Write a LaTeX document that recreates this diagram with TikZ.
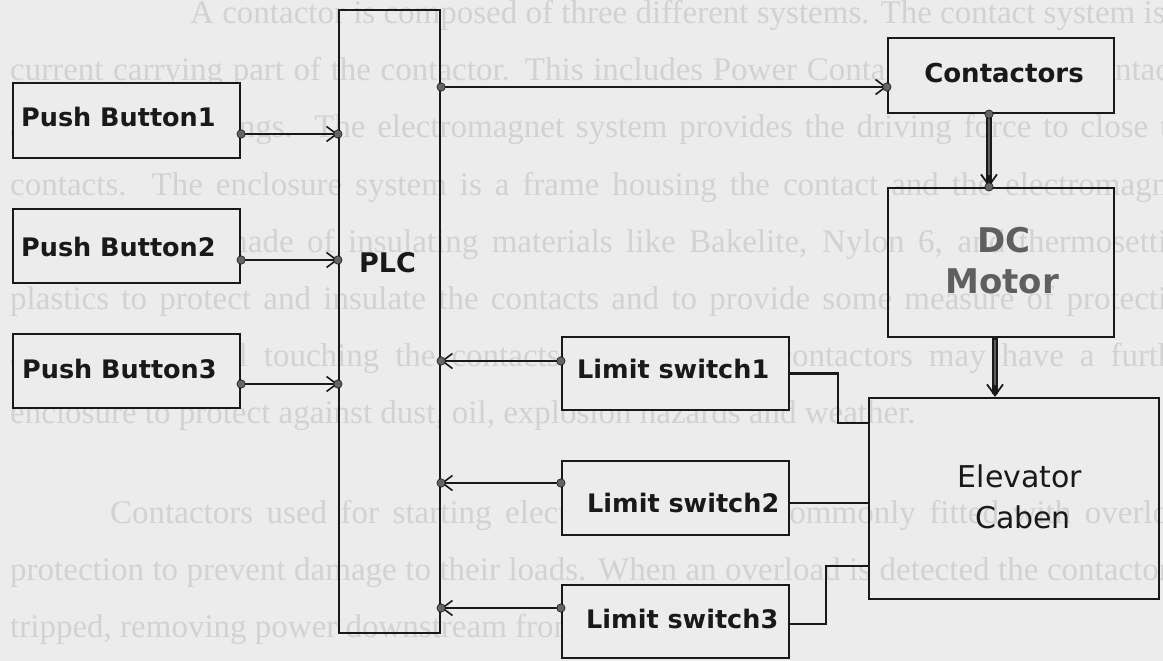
\documentclass[tikz,border=0pt]{standalone}
\usepackage{fontspec}
\setmainfont{Liberation Serif}
\newfontfamily\diagfont{DejaVu Sans}
\usetikzlibrary{arrows.meta,calc}
\definecolor{paper}{RGB}{236,236,236}
\definecolor{ghost}{RGB}{210,210,210}
\definecolor{ink}{RGB}{25,25,25}
\definecolor{dotgray}{RGB}{100,100,100}
\definecolor{motorgray}{RGB}{95,95,95}
\begin{document}
\begin{tikzpicture}[x=1pt,y=-1pt,
  box/.style={draw=ink, line width=2.2pt, inner sep=0pt, rectangle},
  solidbox/.style={box, fill=paper},
  lbl/.style={font=\diagfont\bfseries\fontsize{25.5}{30}\selectfont, text=ink, inner sep=0pt},
  biglbl/.style={font=\diagfont\bfseries\fontsize{34}{40}\selectfont, text=motorgray, inner sep=0pt, anchor=base},
  elevlbl/.style={font=\diagfont\fontsize{30}{36}\selectfont, text=ink, inner sep=0pt, anchor=base},
  ghosttext/.style={font=\fontsize{33}{40}\selectfont, text=ghost, inner sep=0pt, anchor=base west},
  wire/.style={draw=ink, line width=2.2pt},
  conn/.style={wire, -{Straight Barb[length=10pt,width=15pt,line width=1.6pt]}},
  heavy/.style={draw=ink, line width=5.5pt, -{Straight Barb[length=11pt,width=16pt,line width=1.8pt]}},
  heavycore/.style={draw=motorgray, line width=2.6pt},
  dot/.style={fill=dotgray, draw=ink, line width=0.6pt}
]
\useasboundingbox (0,0) rectangle (1163,661);
\fill[paper] (0,0) rectangle (1163,661);

% faint text showing through the page
\begin{scope}
\clip (0,0) rectangle (1163,661);
\node[ghosttext] (g1) at (190,24) {A contactor is composed of three different systems. The contact system is the};
\node[ghosttext] (g2) at (10,81) {\makebox[1190pt][s]{current carrying part of the contactor. This includes Power Contacts, Auxiliary Contacts,}};
\node[ghosttext] (g3) at (10,138) {\makebox[1190pt][s]{and Contact Springs. The electromagnet system provides the driving force to close the}};
\node[ghosttext] (g4) at (10,195) {\makebox[1190pt][s]{contacts. The enclosure system is a frame housing the contact and the electromagnet.}};
\node[ghosttext] (g5) at (10,252) {\makebox[1190pt][s]{Enclosures are made of insulating materials like Bakelite, Nylon 6, and thermosetting}};
\node[ghosttext] (g6) at (10,309) {\makebox[1190pt][s]{plastics to protect and insulate the contacts and to provide some measure of protection}};
\node[ghosttext] (g7) at (10,366) {\makebox[1190pt][s]{against personnel touching the contacts. Open-frame contactors may have a further}};
\node[ghosttext] (g8) at (10,423) {enclosure to protect against dust, oil, explosion hazards and weather.};
\node[ghosttext] (g9) at (110,523) {\makebox[1090pt][s]{Contactors used for starting electric motors are commonly fitted with overload}};
\node[ghosttext] (g10) at (10,580) {\makebox[1190pt][s]{protection to prevent damage to their loads. When an overload is detected the contactor is}};
\node[ghosttext] (g11) at (10,637) {tripped, removing power downstream from the contactor.};
\end{scope}

% boxes
\node[solidbox, minimum width=227pt, minimum height=75pt] (pb1) at (126.5,120.5) {};
\node[solidbox, minimum width=227pt, minimum height=74pt] (pb2) at (126.5,246) {};
\node[solidbox, minimum width=227pt, minimum height=74pt] (pb3) at (126.5,371) {};
\node[box, minimum width=101pt, minimum height=623pt] (plc) at (389.5,321.5) {};
\node[solidbox, minimum width=226pt, minimum height=75pt] (cont) at (1001,75.5) {};
\node[box, minimum width=226pt, minimum height=149pt] (dcm) at (1001,262.5) {};
\node[box, minimum width=290pt, minimum height=201pt] (elev) at (1014,498.5) {};
\node[solidbox, minimum width=227pt, minimum height=73pt] (ls1) at (675.5,373.5) {};
\node[solidbox, minimum width=227pt, minimum height=74pt] (ls2) at (675.5,498) {};
\node[solidbox, minimum width=227pt, minimum height=73pt] (ls3) at (675.5,621.5) {};

% labels
\node[lbl, anchor=base west] (pb1t) at (21,127) {Push Button1};
\node[lbl, anchor=base west] (pb2t) at (21,256) {Push Button2};
\node[lbl, anchor=base west] (pb3t) at (22,378) {Push Button3};
\node[lbl, anchor=base west, font=\diagfont\bfseries\fontsize{27}{32}\selectfont] (plct) at (359,272) {PLC};
\node[lbl, anchor=base, font=\diagfont\bfseries\fontsize{26}{30}\selectfont] (contt) at (1004,82) {Contactors};
\node[biglbl] (dct) at (1004,252) {DC};
\node[biglbl] (motort) at (1002,293) {Motor};
\node[elevlbl] (elt) at (1020,487) {Elevator};
\node[elevlbl] (cabt) at (1023,528) {Caben};
\node[lbl, anchor=base west] (ls1t) at (577,378) {Limit switch1};
\node[lbl, anchor=base west] (ls2t) at (587,512) {Limit switch2};
\node[lbl, anchor=base west] (ls3t) at (586,628) {Limit switch3};

% push buttons to PLC
\draw[conn] ([yshift=-13.5pt]pb1.east) coordinate (p1s) -- (p1s -| plc.west) coordinate (p1e);
\draw[conn] ([yshift=-14pt]pb2.east) coordinate (p2s) -- (p2s -| plc.west) coordinate (p2e);
\draw[conn] ([yshift=-13pt]pb3.east) coordinate (p3s) -- (p3s -| plc.west) coordinate (p3e);
\path[dot] (p1s) circle (4.2pt) (p1e) circle (4.2pt) (p2s) circle (4.2pt) (p2e) circle (4.2pt) (p3s) circle (4.2pt) (p3e) circle (4.2pt);

% PLC to contactors
\draw[conn] ([yshift=-11.5pt]cont.west -| plc.east) coordinate (ks) -- ([yshift=-11.5pt]cont.west) coordinate (ke);
\path[dot] (ks) circle (4.2pt) (ke) circle (4.2pt);

% limit switches to PLC
\draw[conn] ([yshift=12.5pt]ls1.west) coordinate (l1s) -- (l1s -| plc.east) coordinate (l1e);
\draw[conn] ([yshift=15pt]ls2.west) coordinate (l2s) -- (l2s -| plc.east) coordinate (l2e);
\draw[conn] ([yshift=13.5pt]ls3.west) coordinate (l3s) -- (l3s -| plc.east) coordinate (l3e);
\path[dot] (l1s) circle (4.2pt) (l1e) circle (4.2pt) (l2s) circle (4.2pt) (l2e) circle (4.2pt) (l3s) circle (4.2pt) (l3e) circle (4.2pt);

% contactors to DC motor, DC motor to elevator
\draw[heavy] ([xshift=-12pt]cont.south) coordinate (c1s) -- (c1s |- dcm.north) coordinate (c1e);
\draw[heavycore] ([yshift=-2pt]c1s) -- ([yshift=12pt]c1e);
\path[dot] (c1s) circle (4.2pt) (c1e) circle (4.2pt);
\draw[heavy] ([xshift=-6pt]dcm.south) coordinate (d1s) -- (d1s |- elev.north) coordinate (d1e);
\draw[heavycore] ([yshift=-2pt]d1s) -- ([yshift=12pt]d1e);

% limit switches to elevator
\draw[wire] (ls1.east) -- ++(48,0) |- ([yshift=75.5pt]elev.west);
\draw[wire] ([yshift=-5pt]ls2.east) coordinate (w2) -- (w2 -| elev.west);
\draw[wire] ([yshift=-2.5pt]ls3.east) -- ++(36,0) |- ([yshift=-67.5pt]elev.west);
\end{tikzpicture}
\end{document}
